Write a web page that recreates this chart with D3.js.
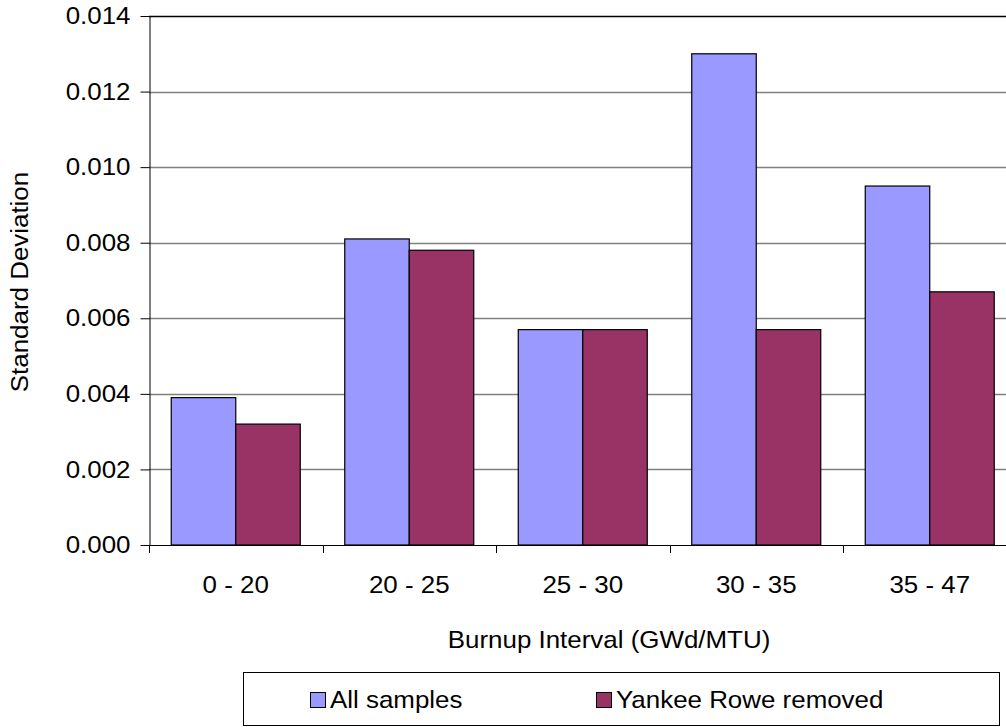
<!DOCTYPE html>
<html>
<head>
<meta charset="utf-8">
<script src="https://cdn.jsdelivr.net/npm/d3@7/dist/d3.min.js"></script>
<style>
  html, body { margin: 0; padding: 0; background: #fff; }
  svg { display: block; font-family: "Liberation Sans", Arial, sans-serif; }
</style>
</head>
<body>
<svg id="chart" width="1006" height="727"></svg>
<script>
// Burnup intervals and the standard deviation for each sample set
const categories = ["0 - 20", "20 - 25", "25 - 30", "30 - 35", "35 - 47"];
const seriesNames = ["All samples", "Yankee Rowe removed"];
const allSamples = [0.0039, 0.0081, 0.0057, 0.0130, 0.0095];
const yankeeRoweRemoved = [0.0032, 0.0078, 0.0057, 0.0057, 0.0067];
const yTicks = [0, 0.002, 0.004, 0.006, 0.008, 0.010, 0.012, 0.014];
const colors = ["#9999FF", "#993366"];

const seriesValues = [allSamples, yankeeRoweRemoved];
const rows = categories.map((c, i) => ({
  category: c,
  values: seriesNames.map((s, j) => ({ series: s, value: seriesValues[j][i], idx: j }))
}));

const svg = d3.select("#chart");
const fontSize = 24;
const stretch = 1.08; // slightly wide lettering

// Place a text at (x, y) with a horizontal stretch about its anchor
function placeText(sel, x, y, rotate) {
  sel.attr("transform", (d, i) => {
    const xx = typeof x === "function" ? x(d, i) : x;
    const yy = typeof y === "function" ? y(d, i) : y;
    return `translate(${xx},${yy})` + (rotate ? ` rotate(${rotate})` : "") + ` scale(${stretch},1)`;
  });
  return sel;
}

const plot = { left: 149, top: 16, bottom: 545, right: 149 + 5 * 173.5 };

const x0 = d3.scaleBand().domain(categories).range([plot.left, plot.right]).padding(0);
const x1 = d3.scaleBand().domain(seriesNames).range([0, x0.bandwidth()])
  .paddingInner(0).paddingOuter(0.345);
const y = d3.scaleLinear().domain([0, 0.014]).range([plot.bottom, plot.top]);

// Horizontal gridlines
svg.append("g").selectAll("line").data(yTicks.slice(1)).join("line")
  .attr("x1", plot.left).attr("x2", 1006)
  .attr("y1", d => Math.round(y(d)) + 0.5).attr("y2", d => Math.round(y(d)) + 0.5)
  .attr("stroke", (d, i, a) => i === a.length - 1 ? "#000" : "#808080")
  .attr("stroke-width", 1.5);

// Bars
const groups = svg.append("g").selectAll("g").data(rows).join("g")
  .attr("transform", d => `translate(${x0(d.category)},0)`);
groups.selectAll("rect").data(d => d.values).join("rect")
  .attr("x", d => x1(d.series))
  .attr("width", x1.bandwidth())
  .attr("y", d => y(d.value))
  .attr("height", d => y(0) - y(d.value))
  .attr("fill", d => colors[d.idx])
  .attr("stroke", "#000")
  .attr("stroke-width", 1.2);

// Y axis
const yAxis = d3.axisLeft(y).tickValues(yTicks).tickFormat(d3.format(".3f"))
  .tickSizeInner(9).tickSizeOuter(0).tickPadding(10);
const gy = svg.append("g").attr("transform", `translate(${plot.left + 0.5},0)`).call(yAxis);
gy.selectAll("text").attr("font-size", fontSize).attr("fill", "#000")
  .attr("font-family", "Liberation Sans, Arial, sans-serif")
  .attr("transform", `scale(${stretch},1)`)
  .attr("x", -19 / stretch);
gy.selectAll("line").attr("stroke", "#000");
gy.select(".domain").attr("stroke", "#000");

// X axis: ticks at category boundaries, labels centred in each band
const boundaries = categories.map(c => x0(c));
svg.append("g").selectAll("line").data(boundaries).join("line")
  .attr("x1", d => Math.round(d) + 0.5).attr("x2", d => Math.round(d) + 0.5)
  .attr("y1", plot.bottom).attr("y2", plot.bottom + 8)
  .attr("stroke", "#000");
svg.append("line")
  .attr("x1", plot.left).attr("x2", 1006)
  .attr("y1", plot.bottom + 0.5).attr("y2", plot.bottom + 0.5)
  .attr("stroke", "#000");
placeText(
  svg.append("g").selectAll("text").data(categories).join("text")
    .attr("text-anchor", "middle")
    .attr("font-size", fontSize)
    .text(d => d),
  d => x0(d) + x0.bandwidth() / 2, 593);

// Axis titles
placeText(svg.append("text")
  .attr("text-anchor", "middle")
  .attr("font-size", fontSize)
  .text("Burnup Interval (GWd/MTU)"), 609, 648);
placeText(svg.append("text")
  .attr("text-anchor", "middle")
  .attr("font-size", fontSize)
  .text("Standard Deviation"), 28, 282, -90);

// Legend
const legend = svg.append("g");
legend.append("rect")
  .attr("x", 243.5).attr("y", 672.5).attr("width", 756).attr("height", 53)
  .attr("fill", "#fff").attr("stroke", "#000");
const legendX = [310, 596];
seriesNames.forEach((s, i) => {
  legend.append("rect")
    .attr("x", legendX[i] + 0.5).attr("y", 692.5).attr("width", 15).attr("height", 15)
    .attr("fill", colors[i]).attr("stroke", "#000");
  placeText(legend.append("text")
    .attr("font-size", fontSize)
    .text(s), legendX[i] + 20, 708);
});
</script>
</body>
</html>
